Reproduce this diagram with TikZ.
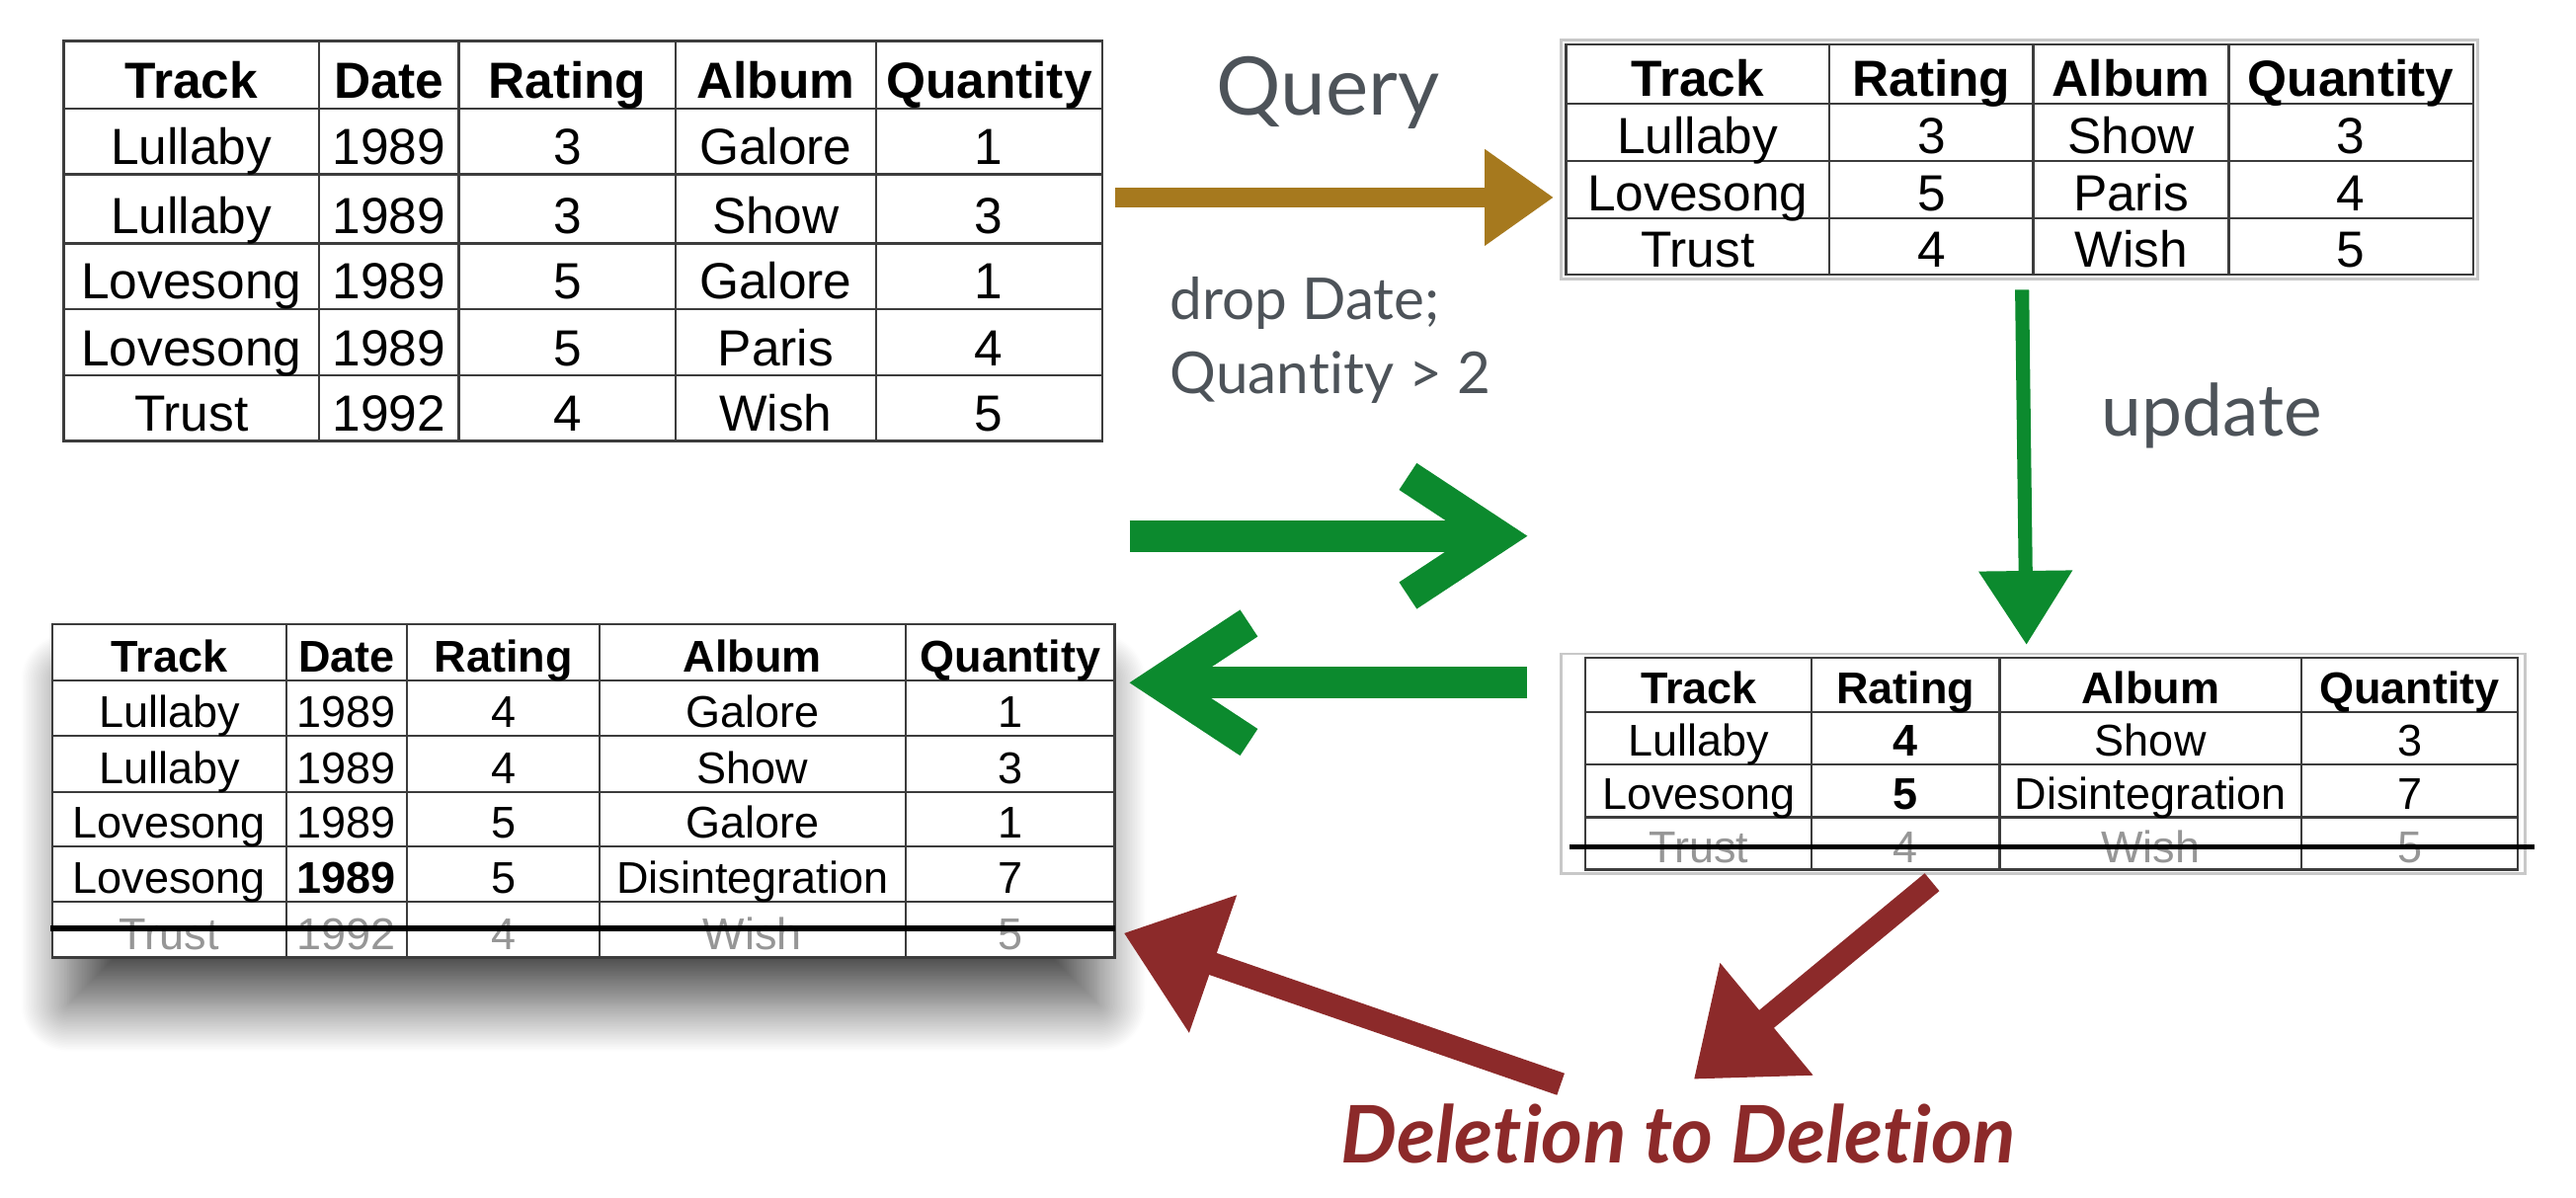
\documentclass[tikz,border=0pt]{standalone}
\usepackage{fontspec}
\setmainfont{Liberation Sans}
\newfontfamily\gillfont[Ligatures={NoCommon}]{Lato}
\usetikzlibrary{arrows.meta,fit,shadows.blur}

\definecolor{querygold}{RGB}{166,121,30}
\definecolor{updgreen}{RGB}{12,138,46}
\definecolor{delred}{RGB}{140,42,42}
\definecolor{labelgrey}{RGB}{77,83,89}
\definecolor{gridgrey}{RGB}{60,60,60}
\definecolor{framegrey}{RGB}{200,200,200}
\definecolor{gonegrey}{RGB}{150,150,150}

\begin{document}
\begin{tikzpicture}[x=0.02cm,y=-0.02cm,
    gridline/.style={draw=gridgrey,line width=0.8pt},
    cell/.style={anchor=base,inner sep=0pt},
    gone/.style={text=gonegrey},
    strike/.style={line width=1.8pt},
    lbl/.style={anchor=base west,inner sep=0pt,text=labelgrey},
    queryarrow/.style={draw=querygold,line width=0.24cm,-{Triangle[length=0.84cm,width=1.12cm]}},
    updarrow/.style={draw=updgreen,line width=0.17cm,-{Triangle[length=0.9cm,width=1.1cm]}},
    syncarrow/.style={draw=updgreen,line width=0.39cm,-{Straight Barb[length=1.1cm,width=1.45cm]}},
    delarrow/.style={draw=delred,line width=0.28cm,-{Triangle[length=1.15cm,width=1.7cm]}}]

  \useasboundingbox (0,0) rectangle (1568,729);

  % tracks
  \node[fit={(38.8,25) (670.8,268.5)},inner sep=0pt,gridline] (tracks) {};
  \foreach \x in {194.2,279.3,411.3,533.1}
    \draw[gridline] (\x,25) -- (\x,268.5);
  \foreach \y in {66.1,106.2,148.3,188,228.5}
    \draw[gridline] (38.8,\y) -- (670.8,\y);

  \begin{scope}[every node/.style={cell,font=\fontsize{17.6}{20}\selectfont}]
    \foreach \n/\x/\lbl in {1/116.5/Track,2/236.8/Date,3/345.3/Rating,4/472.2/Album,5/602/Quantity}
      \node[font=\fontsize{17.6}{20}\selectfont\bfseries] (tracks-0-\n) at (\x,60.1) {\lbl};
    \foreach \r/\y/\ta/\tb/\tc/\td/\te in {1/100.2/Lullaby/1989/3/Galore/1,
        2/142.3/Lullaby/1989/3/Show/3, 3/182/Lovesong/1989/5/Galore/1,
        4/222.5/Lovesong/1989/5/Paris/4, 5/262.5/Trust/1992/4/Wish/5} {
      \node (tracks-\r-1) at (116.5,\y) {\ta};
      \node (tracks-\r-2) at (236.8,\y) {\tb};
      \node (tracks-\r-3) at (345.3,\y) {\tc};
      \node (tracks-\r-4) at (472.2,\y) {\td};
      \node (tracks-\r-5) at (602,\y) {\te};
    }
  \end{scope}

  % query result
  \draw[framegrey,line width=1pt] (950,24.5) rectangle (1508,169.8);
  \node[fit={(953.3,27.1) (1505.3,167.3)},inner sep=0pt,gridline] (view) {};
  \foreach \x in {1113.4,1237.7,1356.7}
    \draw[gridline] (\x,27.1) -- (\x,167.3);
  \foreach \y in {63.1,98.2,132.7}
    \draw[gridline] (953.3,\y) -- (1505.3,\y);

  \begin{scope}[every node/.style={cell,font=\fontsize{17.6}{20}\selectfont}]
    \foreach \n/\x/\lbl in {1/1033.4/Track,2/1175.6/Rating,3/1297.2/Album,4/1431/Quantity}
      \node[font=\fontsize{17.6}{20}\selectfont\bfseries] (view-0-\n) at (\x,58.6) {\lbl};
    \foreach \r/\y/\ta/\tb/\tc/\td in {1/93.7/Lullaby/3/Show/3,
        2/128.2/Lovesong/5/Paris/4, 3/162.8/Trust/4/Wish/5} {
      \node (view-\r-1) at (1033.4,\y) {\ta};
      \node (view-\r-2) at (1175.6,\y) {\tb};
      \node (view-\r-3) at (1297.2,\y) {\tc};
      \node (view-\r-4) at (1431,\y) {\td};
    }
  \end{scope}

  % updated view
  \draw[framegrey,line width=1pt] (950,398) rectangle (1537,532);
  \node[fit={(965.1,400.5) (1532.6,529.4)},inner sep=0pt,gridline] (newview) {};
  \foreach \x in {1102.8,1217.2,1400.8}
    \draw[gridline] (\x,400.5) -- (\x,529.4);
  \foreach \y in {433.3,465.4,497.6}
    \draw[gridline] (965.1,\y) -- (1532.6,\y);

  \begin{scope}[every node/.style={cell,font=\fontsize{15.4}{18}\selectfont}]
    \foreach \n/\x/\lbl in {1/1034/Track,2/1160/Rating,3/1309/Album,4/1466.7/Quantity}
      \node[font=\fontsize{15.4}{18}\selectfont\bfseries] (newview-0-\n) at (\x,428.3) {\lbl};
    \foreach \r/\y/\ta/\tb/\tc/\td in {1/460.4/Lullaby/\textbf{4}/Show/3,
        2/492.6/Lovesong/\textbf{5}/Disintegration/7} {
      \node (newview-\r-1) at (1034,\y) {\ta};
      \node (newview-\r-2) at (1160,\y) {\tb};
      \node (newview-\r-3) at (1309,\y) {\tc};
      \node (newview-\r-4) at (1466.7,\y) {\td};
    }
    \node[gone] (newview-3-1) at (1034,525) {Trust};
    \node[gone] (newview-3-2) at (1160,525) {4};
    \node[gone] (newview-3-3) at (1309,525) {Wish};
    \node[gone] (newview-3-4) at (1466.7,525) {5};
  \end{scope}
  \draw[strike] (955.3,515.4) -- (1543,515.4);

  % updated tracks
  \node[fit={(31.8,379.8) (678.4,582.8)},inner sep=0pt,fill=white,
    blur shadow={shadow xshift=0pt,shadow yshift=-0.65cm,shadow blur radius=0.6cm,
      shadow blur steps=30,shadow scale=0.97,shadow opacity=70}] (newtracks) {};
  \node[fit={(31.8,379.8) (678.4,582.8)},inner sep=0pt,gridline] (newtracks-frame) {};
  \foreach \x in {174.2,247.9,364.8,551.4}
    \draw[gridline] (\x,379.8) -- (\x,582.8);
  \foreach \y in {414.4,447.9,482,515.4,549.1}
    \draw[gridline] (31.8,\y) -- (678.4,\y);

  \begin{scope}[every node/.style={cell,font=\fontsize{15.4}{18}\selectfont}]
    \foreach \n/\x/\lbl in {1/103/Track,2/211/Date,3/306.4/Rating,4/458.1/Album,5/614.9/Quantity}
      \node[font=\fontsize{15.4}{18}\selectfont\bfseries] (newtracks-0-\n) at (\x,409.4) {\lbl};
    \foreach \r/\y/\ta/\tb/\tc/\td/\te in {1/442.9/Lullaby/1989/4/Galore/1,
        2/477/Lullaby/1989/4/Show/3, 3/510.4/Lovesong/1989/5/Galore/1,
        4/544.1/Lovesong/\textbf{1989}/5/Disintegration/7} {
      \node (newtracks-\r-1) at (103,\y) {\ta};
      \node (newtracks-\r-2) at (211,\y) {\tb};
      \node (newtracks-\r-3) at (306.4,\y) {\tc};
      \node (newtracks-\r-4) at (458.1,\y) {\td};
      \node (newtracks-\r-5) at (614.9,\y) {\te};
    }
    \node[gone] (newtracks-5-1) at (103,577.8) {Trust};
    \node[gone] (newtracks-5-2) at (211,577.8) {1992};
    \node[gone] (newtracks-5-3) at (306.4,577.8) {4};
    \node[gone] (newtracks-5-4) at (458.1,577.8) {Wish};
    \node[gone] (newtracks-5-5) at (614.9,577.8) {5};
  \end{scope}
  \draw[strike] (30.9,565.1) -- (679,565.1);

  % labels
  \node[lbl,font=\gillfont\fontsize{28}{30}\selectfont] (querylbl) at (740,70) {Query};
  \node[lbl,font=\gillfont\fontsize{20}{22}\selectfont] (droplbl) at (712,194.4) {drop Date;};
  \node[lbl,font=\gillfont\fontsize{20}{22}\selectfont] (condlbl) at (712,239.5) {Quantity > 2};
  \node[lbl,font=\gillfont\fontsize{25}{27}\selectfont] (updlbl) at (1279,265.5) {update};
  \node[lbl,text=delred,font=\gillfont\fontsize{27.5}{30}\selectfont\bfseries\itshape] (dellbl) at (816,708) {Deletion to Deletion};

  % arrows
  \coordinate (q-from) at (678.7,120.2);
  \coordinate (q-to) at (945.7,120.2);
  \coordinate (u-from) at (1230.8,176.4);
  \coordinate (u-to) at (1233.5,392.5);
  \coordinate (fwd-from) at (687.5,326.3);
  \coordinate (fwd-to) at (929.7,326.3);
  \coordinate (bwd-from) at (929.7,415.6);
  \coordinate (bwd-to) at (687.5,415.6);
  \coordinate (del-a-from) at (950,660);
  \coordinate (del-a-to) at (684,568);
  \coordinate (del-b-from) at (1176,537);
  \coordinate (del-b-to) at (1031,657);

  \draw[queryarrow] (q-from) -- (q-to);
  \draw[updarrow] (u-from) -- (u-to);
  \draw[syncarrow] (fwd-from) -- (fwd-to);
  \draw[syncarrow] (bwd-from) -- (bwd-to);
  \draw[delarrow] (del-a-from) -- (del-a-to);
  \draw[delarrow] (del-b-from) -- (del-b-to);

\end{tikzpicture}
\end{document}
